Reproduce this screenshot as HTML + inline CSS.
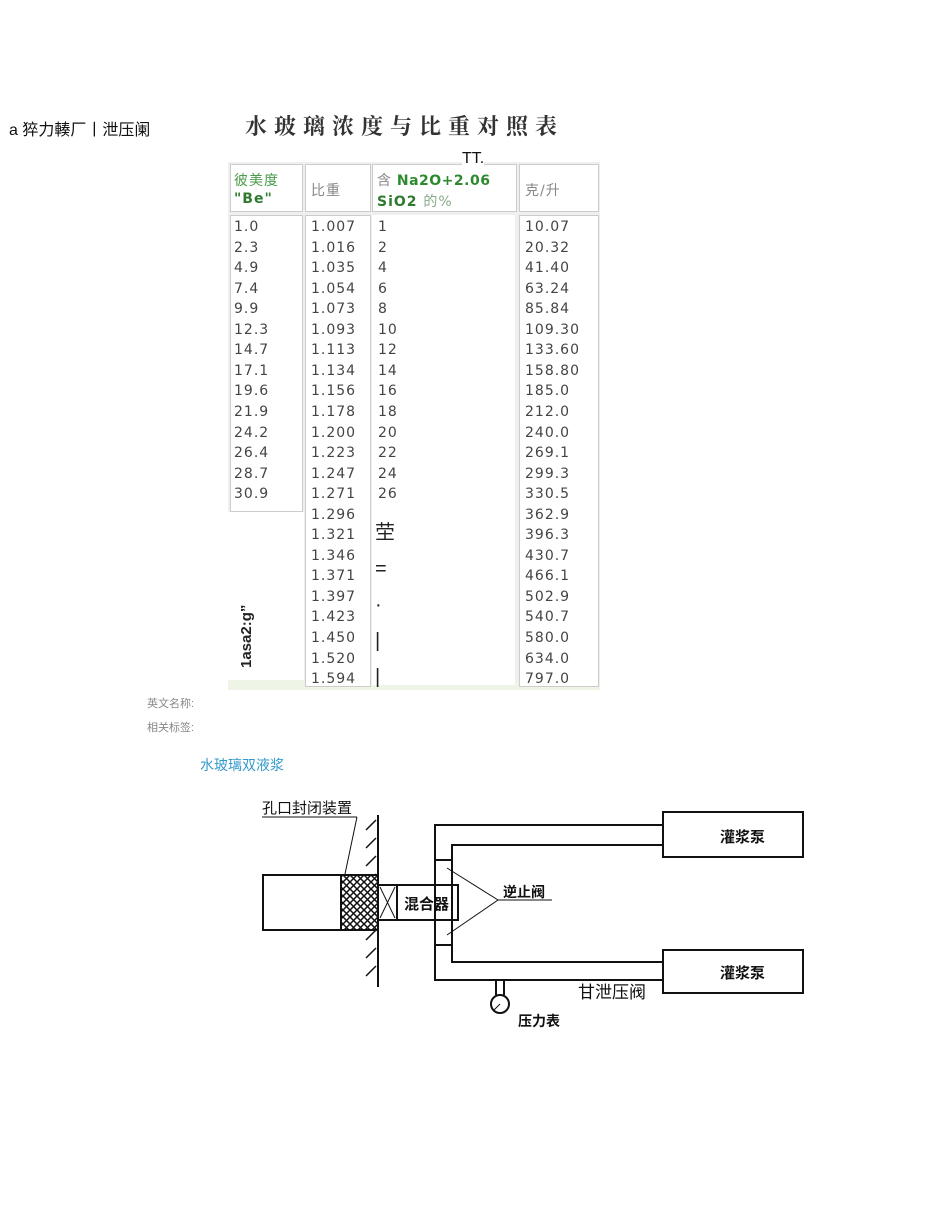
<!DOCTYPE html>
<html><head><meta charset="utf-8"><style>
body{margin:0;width:950px;height:1206px;background:#fff;position:relative;overflow:hidden;font-family:"Liberation Sans","Noto Sans CJK SC",sans-serif}
.a{position:absolute;white-space:nowrap}
.cell{position:absolute;font-family:"DejaVu Sans","Noto Sans CJK SC",sans-serif;font-size:14px;color:#444;letter-spacing:1px}
.col{position:absolute;background:#fff;border:1px solid #ccc}
</style></head><body>
<div class="a" style="left:9px;top:116px;font-size:16px;color:#111">a 猝力輳厂丨泄压阑</div>
<div class="a" style="left:245px;top:110px;font-size:22px;color:#333;font-family:'Noto Serif CJK SC',serif;font-weight:bold;letter-spacing:7px">水玻璃浓度与比重对照表</div>

<div style="position:absolute;left:228px;top:162px;width:372px;height:528px;background:#eef0ee"></div>
<div style="position:absolute;left:228px;top:680px;width:372px;height:10px;background:#eef5e6"></div>
<div class="col" style="left:230px;top:164px;width:71px;height:46px"></div>
<div class="col" style="left:305px;top:164px;width:64px;height:46px"></div>
<div class="col" style="left:372px;top:164px;width:143px;height:46px"></div>
<div class="col" style="left:519px;top:164px;width:78px;height:46px"></div>
<div class="col" style="left:230px;top:215px;width:71px;height:295px"></div>
<div class="col" style="left:305px;top:215px;width:64px;height:470px"></div>
<div class="col" style="left:372px;top:215px;width:143px;height:470px;border:none"></div>
<div class="col" style="left:519px;top:215px;width:78px;height:470px"></div>
<div style="position:absolute;left:228px;top:512px;width:76px;height:168px;background:#fff"></div>
<div class="a" style="left:462px;top:150px;font-size:16px;color:#111;background:#fff">TT.</div>

<div class="cell" style="left:234px;top:170px;color:#4a9a4a">彼美度</div>
<div class="cell" style="left:234px;top:191px;color:#2e7a2e;font-weight:bold">"Be"</div>
<div class="cell" style="left:311px;top:180px;color:#888">比重</div>
<div class="cell" style="left:377px;top:170px;color:#2e8a2e;font-weight:bold;letter-spacing:0.5px"><span style="font-weight:normal;color:#888">含</span> Na2O+2.06</div>
<div class="cell" style="left:377px;top:191px;color:#2e7a2e;font-weight:bold">SiO2 <span style="font-weight:normal;color:#8a8">的%</span></div>
<div class="cell" style="left:525px;top:180px;color:#888">克/升</div>

<div id="rows"></div>
<div class="a" style="left:238px;top:668px;font-size:15px;font-weight:bold;color:#222;transform:rotate(-90deg);transform-origin:0 0">1asa2:g”</div>
<div class="a" style="left:375px;top:515px;font-size:20px;color:#222;line-height:36px;width:20px">茔<br>=<br>·<br>|<br>|</div>

<div class="a" style="left:147px;top:695px;font-size:11px;color:#888">英文名称:</div>
<div class="a" style="left:147px;top:719px;font-size:11px;color:#888">相关标签:</div>
<div class="a" style="left:200px;top:755px;font-size:14px;color:#3399cc">水玻璃双液浆</div>

<svg style="position:absolute;left:0;top:0" width="950" height="1206">
<defs><pattern id="x" width="7" height="7" patternUnits="userSpaceOnUse"><rect width="7" height="7" fill="#fff"/><path d="M0 0L7 7M7 0L0 7" stroke="#111" stroke-width="1.5"/></pattern></defs>
<g stroke="#111" stroke-width="2" fill="none">
<line x1="262" y1="817" x2="357" y2="817" stroke-width="1"/>
<line x1="357" y1="817" x2="345" y2="874" stroke-width="1"/>
<line x1="378" y1="815" x2="378" y2="987"/>
<g stroke-width="1.5"><path d="M366 830l10-10M366 848l10-10M366 866l10-10M366 884l10-10M366 940l10-10M366 958l10-10M366 976l10-10"/></g>
<rect x="263" y="875" width="78" height="55"/>
<rect x="341" y="875" width="37" height="55" fill="url(#x)"/>
<rect x="378" y="885" width="19" height="35"/>
<path d="M380 887L395 918M395 887L380 918" stroke-width="1"/>
<rect x="397" y="885" width="61" height="35"/>
<path d="M663 825H435V980H663"/>
<path d="M663 845H452V962H663"/>
<line x1="435" y1="860" x2="452" y2="860"/>
<line x1="435" y1="945" x2="452" y2="945"/>
<rect x="663" y="812" width="140" height="45"/>
<rect x="663" y="950" width="140" height="43"/>
<path d="M447 868L498 900L447 935" stroke-width="1"/>
<line x1="498" y1="900" x2="552" y2="900" stroke-width="1"/>
<path d="M496 980V995M504 980V995"/>
<circle cx="500" cy="1004" r="9"/>
<line x1="500" y1="1004" x2="494" y2="1010" stroke-width="1"/>
</g>
<g font-family="Noto Sans CJK SC,sans-serif" fill="#111">
<text x="262" y="813" font-size="15">孔口封闭装置</text>
<text x="404" y="909" font-size="15" font-weight="bold">混合器</text>
<text x="503" y="897" font-size="14" font-weight="bold">逆止阀</text>
<text x="720" y="842" font-size="15" font-weight="bold">灌浆泵</text>
<text x="720" y="978" font-size="15" font-weight="bold">灌浆泵</text>
<text x="578" y="998" font-size="17">甘泄压阀</text>
<text x="518" y="1026" font-size="14" font-weight="bold">压力表</text>
</g>
</svg>
<script>
var d=[["1.0","1.007","1","10.07"],["2.3","1.016","2","20.32"],["4.9","1.035","4","41.40"],["7.4","1.054","6","63.24"],["9.9","1.073","8","85.84"],["12.3","1.093","10","109.30"],["14.7","1.113","12","133.60"],["17.1","1.134","14","158.80"],["19.6","1.156","16","185.0"],["21.9","1.178","18","212.0"],["24.2","1.200","20","240.0"],["26.4","1.223","22","269.1"],["28.7","1.247","24","299.3"],["30.9","1.271","26","330.5"],["","1.296","","362.9"],["","1.321","","396.3"],["","1.346","","430.7"],["","1.371","","466.1"],["","1.397","","502.9"],["","1.423","","540.7"],["","1.450","","580.0"],["","1.520","","634.0"],["","1.594","","797.0"]];
var h="",xs=[234,311,378,525];
d.forEach(function(r,i){var y=219+i*20.55;r.forEach(function(t,j){if(t)h+='<div class="cell" style="left:'+xs[j]+'px;top:'+y+'px">'+t+'</div>';});});
document.getElementById("rows").innerHTML=h;
</script>
</body></html>
